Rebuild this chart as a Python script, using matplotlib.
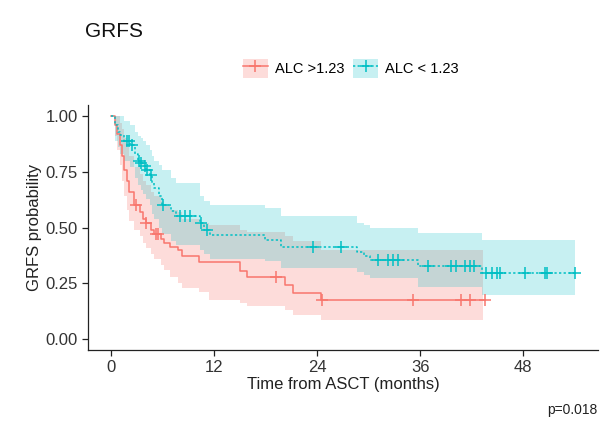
import matplotlib
matplotlib.use('Agg')
import matplotlib.pyplot as plt
from matplotlib.patches import Patch
from matplotlib.lines import Line2D
import numpy as np

plt.rcParams['font.family'] = ['Liberation Sans', 'DejaVu Sans']

# ALC > 1.23 (red): event times, survival, lower / upper confidence limits
red_t = [0, 0.4, 0.7, 1.0, 1.3, 1.5, 1.8, 2.1, 2.7, 3.3, 3.7, 4.0, 4.6, 5.0, 5.8,
         6.2, 6.8, 7.8, 8.2, 10.2, 11.4, 15.0, 15.8, 20.2, 21.2, 24.4]
red_s = [1.0, 0.96, 0.92, 0.87, 0.82, 0.76, 0.71, 0.66, 0.60, 0.57, 0.54, 0.52, 0.49, 0.47, 0.45,
         0.43, 0.414, 0.40, 0.37, 0.347, 0.345, 0.305, 0.28, 0.243, 0.208, 0.176]
red_lo = [1.0, 0.91, 0.85, 0.78, 0.71, 0.64, 0.58, 0.53, 0.49, 0.46, 0.43, 0.41, 0.38, 0.36, 0.33,
          0.31, 0.28, 0.25, 0.23, 0.21, 0.176, 0.16, 0.146, 0.131, 0.109, 0.086]
red_hi = [1.0, 1.0, 1.0, 0.97, 0.94, 0.90, 0.86, 0.82, 0.77, 0.74, 0.71, 0.69, 0.66, 0.64, 0.62,
          0.60, 0.58, 0.57, 0.54, 0.52, 0.51, 0.49, 0.48, 0.46, 0.44, 0.40]
red_end = 43.5
red_band_end = 43.3
red_cens = [2.9, 4.1, 5.2, 5.5, 19.2, 24.5, 35.1, 40.7, 41.8, 43.5]

# ALC < 1.23 (teal)
teal_t = [0, 0.5, 0.8, 1.0, 1.5, 2.2, 2.8, 3.1, 3.5, 3.7, 4.1, 4.5, 4.8, 5.0, 5.6, 5.9,
          7.0, 7.6, 10.3, 10.8, 11.5, 17.9, 19.8, 28.6, 29.4, 30.1, 35.7, 43.2]
teal_s = [1.0, 0.96, 0.93, 0.915, 0.89, 0.87, 0.83, 0.80, 0.79, 0.774, 0.758, 0.736, 0.70, 0.677, 0.64, 0.602,
          0.572, 0.55, 0.52, 0.489, 0.466, 0.444, 0.414, 0.392, 0.373, 0.355, 0.328, 0.295]
teal_lo = [1.0, 0.89, 0.86, 0.83, 0.80, 0.77, 0.72, 0.69, 0.67, 0.65, 0.63, 0.60, 0.56, 0.54, 0.50, 0.47,
           0.44, 0.42, 0.40, 0.38, 0.36, 0.35, 0.32, 0.30, 0.285, 0.273, 0.235, 0.198]
teal_hi = [1.0, 1.0, 1.0, 1.0, 0.98, 0.96, 0.93, 0.91, 0.90, 0.89, 0.87, 0.85, 0.82, 0.80, 0.78, 0.76,
           0.72, 0.70, 0.64, 0.62, 0.60, 0.586, 0.55, 0.52, 0.51, 0.496, 0.474, 0.444]
teal_end = 54.0
teal_cens = [1.8, 2.1, 2.4, 3.2, 3.5, 3.9, 4.2, 4.6, 6.0, 8.0, 8.6, 9.2, 10.5, 11.1,
             23.5, 26.8, 31.1, 32.2, 32.8, 33.4, 36.9, 39.6, 40.2, 41.2, 41.8, 42.3,
             43.7, 44.3, 44.9, 45.3, 48.2, 50.5, 50.8, 54.0]

labels = ['ALC >1.23', 'ALC < 1.23']
colors = ['#F8766D', '#00BFC4']
x_ticks = [0, 12, 24, 36, 48]
y_ticks = [0, 0.25, 0.5, 0.75, 1.0]

fig = plt.figure(figsize=(6, 4.22), dpi=100)
ax = fig.add_axes([0.1467, 0.1706, 0.85, 0.5806])


def km(ax, t, s, lo, hi, t_end, band_end, cens, color, ls, alpha):
    t = np.asarray(t, float)
    s = np.asarray(s, float)
    tb = np.append(t, band_end)
    ax.fill_between(tb, np.append(lo, lo[-1]), np.append(hi, hi[-1]),
                    step='post', color=color, alpha=alpha, lw=0)
    ax.step(np.append(t, t_end), np.append(s, s[-1]), where='post',
            color=color, ls=ls, lw=1.1)
    idx = np.searchsorted(t, cens, side='right') - 1
    ax.plot(cens, s[idx], ls='none', marker='+', ms=9, mew=1.1, color=color)


km(ax, red_t, red_s, red_lo, red_hi, red_end, red_band_end, red_cens, colors[0], '-', 0.25)
km(ax, teal_t, teal_s, teal_lo, teal_hi, teal_end, teal_end, teal_cens, colors[1], (0, (1.5, 1.5)), 0.22)

ax.set_xlim(-2.7, 56.7)
ax.set_ylim(-0.05, 1.05)
ax.set_xticks(x_ticks)
ax.set_yticks(y_ticks)
ax.set_yticklabels(['%.2f' % v for v in y_ticks])
for side in ['top', 'right']:
    ax.spines[side].set_visible(False)
for side in ['left', 'bottom']:
    ax.spines[side].set_color('#222222')
    ax.spines[side].set_linewidth(0.9)
ax.tick_params(labelsize=12, colors='#222222', length=4, width=0.9, labelcolor='#333333')
ax.set_xlabel('Time from ASCT (months)', fontsize=12, color='#222222', labelpad=1)
ax.set_ylabel('GRFS probability', fontsize=12, color='#222222', labelpad=2)

fig.text(0.142, 0.925, 'GRFS', fontsize=15, color='#111111', va='center')
fig.text(0.995, 0.028, 'p=0.018', fontsize=10, color='#222222', ha='right', va='center')

handles = []
for c, ls, a in zip(colors, ['-', (0, (1.5, 1.5))], [0.25, 0.22]):
    handles.append((Patch(facecolor=c, alpha=a, edgecolor='none'),
                    Line2D([], [], color=c, ls=ls, lw=1.1, marker='+', ms=9, mew=1.1)))
fig.legend(handles, labels, loc='center', bbox_to_anchor=(0.585, 0.838), ncol=2,
           frameon=False, fontsize=10.5, handlelength=1.7, handleheight=1.7,
           columnspacing=0.6, handletextpad=0.5)

fig.savefig('out.png', dpi=100)
